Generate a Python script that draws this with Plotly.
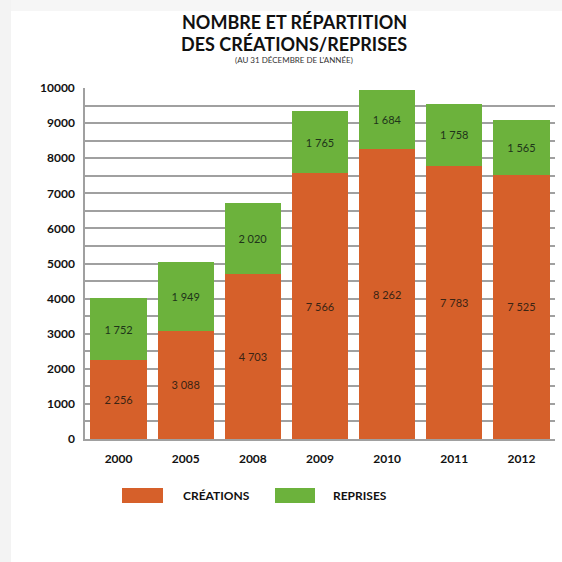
import plotly.graph_objects as go

years = ["2000", "2005", "2008", "2009", "2010", "2011", "2012"]
creations = [2256, 3088, 4703, 7566, 8262, 7783, 7525]
reprises = [1752, 1949, 2020, 1765, 1684, 1758, 1565]
y_ticks = [0, 1000, 2000, 3000, 4000, 5000, 6000, 7000, 8000, 9000, 10000]

ORANGE = "#D6602A"
GREEN = "#6CB23C"

W, H = 562, 562
L, R, T, B = 85, 7, 88, 123
PW, PH = W - L - R, H - T - B


def fr(n):
    return f"{n:,}".replace(",", " ")


def px2x(px):
    return (px - L) / PW


def px2y(py):
    return (H - B - py) / PH


fig = go.Figure()
fig.add_trace(go.Bar(x=years, y=creations, name="CRÉATIONS", marker=dict(color=ORANGE, line_width=0),
                     text=[fr(v) for v in creations], textposition="inside", insidetextanchor="middle",
                     textfont=dict(family="Lato", size=11, color="#3a2414"), textangle=0))
fig.add_trace(go.Bar(x=years, y=reprises, name="REPRISES", marker=dict(color=GREEN, line_width=0),
                     text=[fr(v) for v in reprises], textposition="inside", insidetextanchor="middle",
                     textfont=dict(family="Lato", size=11, color="#20341a"), textangle=0))

fig.update_layout(
    barmode="stack", bargap=0.16,
    width=W, height=H,
    margin=dict(l=L, r=R, t=T, b=B),
    paper_bgcolor="white", plot_bgcolor="white",
    showlegend=False,
    font=dict(family="Lato", color="#1a1a1a"),
    uniformtext=dict(mode="show", minsize=11),
)
fig.update_yaxes(range=[0, 10000], tickvals=y_ticks, ticktext=[str(v) for v in y_ticks],
                 showgrid=True, gridcolor="#a0a0a0", gridwidth=1.5,
                 minor=dict(dtick=500, showgrid=True, gridcolor="#a0a0a0", gridwidth=1.5),
                 showline=True, linecolor="#a0a0a0", linewidth=1.5,
                 tickfont=dict(family="Lato", size=12, color="#111111", weight="bold"), ticks="", ticklabelstandoff=6)
fig.update_xaxes(showline=True, linecolor="#a0a0a0", linewidth=1.5, ticks="",
                 tickfont=dict(family="Lato", size=12, color="#111111", weight="bold"), ticklabelstandoff=8)

# faint page shadow (left and top)
fig.add_shape(type="rect", xref="paper", yref="paper", x0=px2x(0), x1=px2x(11), y0=px2y(562), y1=px2y(0),
              fillcolor="#f3f3f3", line_width=0, layer="below")
fig.add_shape(type="rect", xref="paper", yref="paper", x0=px2x(11), x1=px2x(562), y0=px2y(11), y1=px2y(0),
              fillcolor="#f6f6f6", line_width=0, layer="below")

cx = px2x((160 + 428) / 2)
fig.add_annotation(text="NOMBRE ET RÉPARTITION", x=cx, y=px2y(22), xref="paper", yref="paper",
                   yanchor="middle", xanchor="center", showarrow=False,
                   font=dict(family="Lato", size=18, color="#111111", weight="bold"))
fig.add_annotation(text="DES CRÉATIONS/REPRISES", x=cx, y=px2y(44), xref="paper", yref="paper",
                   yanchor="middle", xanchor="center", showarrow=False,
                   font=dict(family="Lato", size=18, color="#111111", weight="bold"))
fig.add_annotation(text="(AU 31 DÉCEMBRE DE L'ANNÉE)", x=cx, y=px2y(60), xref="paper", yref="paper",
                   yanchor="middle", xanchor="center", showarrow=False,
                   font=dict(family="Lato", size=8, color="#333333"))

# custom legend
fig.add_shape(type="rect", xref="paper", yref="paper", x0=px2x(122), x1=px2x(163), y0=px2y(503), y1=px2y(488),
              fillcolor=ORANGE, line_width=0)
fig.add_shape(type="rect", xref="paper", yref="paper", x0=px2x(275), x1=px2x(315), y0=px2y(503), y1=px2y(488),
              fillcolor=GREEN, line_width=0)
fig.add_annotation(text="CRÉATIONS", x=px2x(181), y=px2y(495), xref="paper", yref="paper",
                   xanchor="left", yanchor="middle", showarrow=False,
                   font=dict(family="Lato", size=12, color="#111111", weight="bold"))
fig.add_annotation(text="REPRISES", x=px2x(331), y=px2y(495), xref="paper", yref="paper",
                   xanchor="left", yanchor="middle", showarrow=False,
                   font=dict(family="Lato", size=12, color="#111111", weight="bold"))

fig.write_html("out.html", config={"displayModeBar": False},
               post_script="document.body.style.margin='0';")
